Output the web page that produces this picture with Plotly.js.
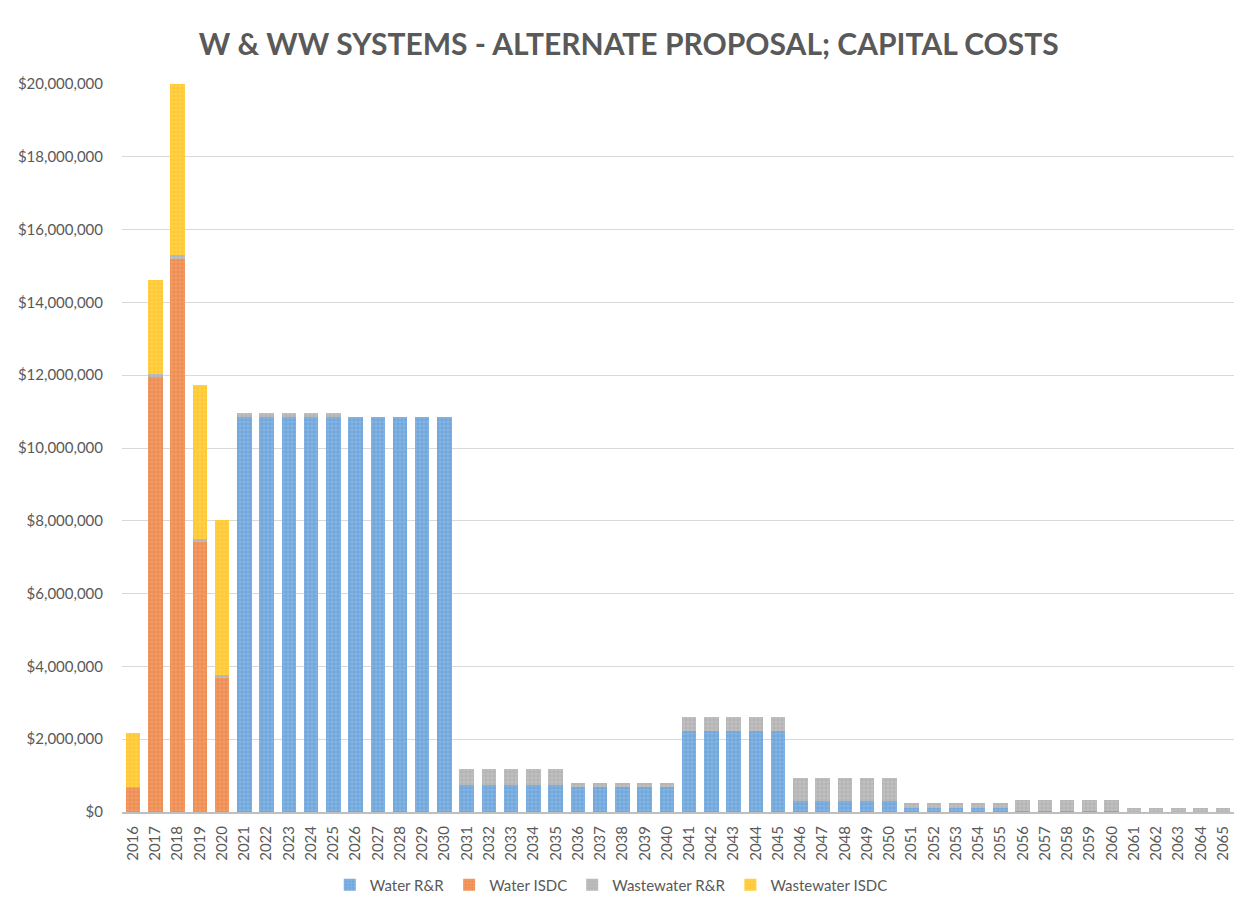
<!DOCTYPE html>
<html>
<head>
<meta charset="utf-8">
<script src="https://cdn.plot.ly/plotly-3.0.1.min.js"></script>
<style>html,body{margin:0;padding:0;background:#fff;}#chart{width:1250px;height:905px;}</style>
</head>
<body>
<div id="chart"></div>
<script>
const years = ['2016','2017','2018','2019','2020','2021','2022','2023','2024','2025',
  '2026','2027','2028','2029','2030','2031','2032','2033','2034','2035',
  '2036','2037','2038','2039','2040','2041','2042','2043','2044','2045',
  '2046','2047','2048','2049','2050','2051','2052','2053','2054','2055',
  '2056','2057','2058','2059','2060','2061','2062','2063','2064','2065'];

const waterRR = [0,0,0,0,0,10850000,10850000,10850000,10850000,10850000,
  10850000,10850000,10850000,10850000,10850000,740000,740000,740000,740000,740000,
  680000,680000,680000,680000,680000,2230000,2230000,2230000,2230000,2230000,
  310000,310000,310000,310000,310000,100000,100000,100000,100000,100000,
  30000,30000,30000,30000,30000,0,0,0,0,0];

const waterISDC = [650000,11950000,15200000,7420000,3690000,0,0,0,0,0,
  0,0,0,0,0,0,0,0,0,0,
  0,0,0,0,0,0,0,0,0,0,
  0,0,0,0,0,0,0,0,0,0,
  0,0,0,0,0,0,0,0,0,0];

const wastewaterRR = [40000,80000,100000,90000,80000,120000,120000,120000,120000,120000,
  0,0,0,0,0,430000,430000,430000,430000,430000,
  120000,120000,120000,120000,120000,390000,390000,390000,390000,390000,
  620000,620000,620000,620000,620000,160000,160000,160000,160000,160000,
  290000,290000,290000,290000,290000,120000,120000,120000,120000,120000];

const wastewaterISDC = [1490000,2590000,4700000,4230000,4240000,0,0,0,0,0,
  0,0,0,0,0,0,0,0,0,0,
  0,0,0,0,0,0,0,0,0,0,
  0,0,0,0,0,0,0,0,0,0,
  0,0,0,0,0,0,0,0,0,0];

const seriesNames = ['Water R&R','Water ISDC','Wastewater R&R','Wastewater ISDC'];
const seriesColors = ['#6fa6dc','#ef8c4f','#b4b4b4','#ffc82e'];
const seriesValues = [waterRR, waterISDC, wastewaterRR, wastewaterISDC];

const traces = seriesValues.map((vals, i) => ({
  type: 'bar',
  name: seriesNames[i],
  x: years,
  y: vals,
  marker: {
    color: seriesColors[i],
    line: {width: 0},
    pattern: {shape: '+', fillmode: 'overlay', fgcolor: '#ffffff', fgopacity: 0.3, size: 4, solidity: 0.25}
  },
  hoverinfo: 'x+y+name'
}));

const font = 'Lato, "Open Sans", "DejaVu Sans", sans-serif';
const layout = {
  width: 1250,
  height: 905,
  barmode: 'stack',
  bargap: 0.35,
  paper_bgcolor: '#ffffff',
  plot_bgcolor: '#ffffff',
  margin: {l: 122, r: 16, t: 84, b: 93, autoexpand: false},
  font: {family: font, size: 15, color: '#595959'},
  title: {
    text: '<b>W & WW SYSTEMS - ALTERNATE PROPOSAL; CAPITAL COSTS</b>',
    font: {family: font, size: 30, color: '#595959'},
    x: 0.503, xref: 'container', xanchor: 'center',
    y: 1 - 44/905, yref: 'container', yanchor: 'middle'
  },
  xaxis: {
    type: 'category',
    automargin: false,
    tickangle: -90,
    tickfont: {family: font, size: 15, color: '#595959'},
    showgrid: false,
    showline: true,
    linecolor: '#bfbfbf',
    linewidth: 2,
    ticks: '',
    ticklabelstandoff: 6
  },
  yaxis: {
    range: [0, 20000000],
    automargin: false,
    dtick: 2000000,
    tickprefix: '$',
    tickformat: ',d',
    tickfont: {family: font, size: 15, color: '#595959'},
    gridcolor: '#d9d9d9',
    gridwidth: 1,
    zeroline: false,
    showline: false,
    ticks: '',
    ticklabelstandoff: 18
  },
  legend: {
    orientation: 'h',
    x: 0.44, xanchor: 'center',
    y: -(885-812)/728, yanchor: 'middle',
    font: {family: font, size: 15, color: '#595959'},
    traceorder: 'normal',
    itemwidth: 30
  },
  showlegend: true
};

Plotly.newPlot('chart', traces, layout, {displayModeBar: false, staticPlot: true});
</script>
</body>
</html>
